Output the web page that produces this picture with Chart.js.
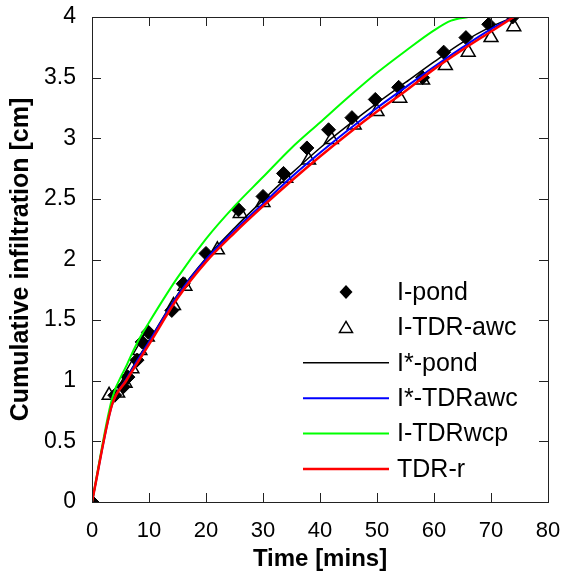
<!DOCTYPE html>
<html>
<head>
<meta charset="utf-8">
<script src="https://cdn.jsdelivr.net/npm/chart.js@4.4.1/dist/chart.umd.min.js"></script>
<style>
  body { margin: 0; background: #fff; }
  #wrap { width: 564px; height: 576px; }
</style>
</head>
<body>
<div id="wrap"><canvas id="infilChart" width="564" height="576"></canvas></div>
<script>
// measured points
const pondTime = [0, 4, 5.5, 6.3, 7.9, 8.8, 9.9, 14, 16, 20, 25.7, 30, 33.6, 37.7, 41.5, 45.6, 49.7, 53.8, 58, 61.7, 65.6, 69.6, 73.8];
const pondVals = [0, 0.88, 0.95, 1.03, 1.17, 1.32, 1.4, 1.58, 1.8, 2.05, 2.41, 2.52, 2.71, 2.92, 3.07, 3.17, 3.32, 3.42, 3.5, 3.71, 3.83, 3.94, 4.0];
const awcTime = [3, 4.5, 5.8, 7, 8.4, 9.7, 14.3, 16.3, 22, 26, 30, 34, 38, 42, 46, 50, 54, 58, 62, 66, 70, 74];
const awcVals = [0.88, 0.9, 0.98, 1.1, 1.25, 1.36, 1.62, 1.78, 2.08, 2.38, 2.47, 2.67, 2.82, 2.99, 3.11, 3.22, 3.33, 3.48, 3.6, 3.71, 3.83, 3.92];

// model curves
const modelTime = [0, 3.5, 6, 8, 10, 15, 20, 25, 30, 35, 40, 45, 50, 55, 60, 65, 70, 74];
const pondFit = [0, 0.81, 1.02, 1.18, 1.33, 1.71, 2.01, 2.26, 2.49, 2.71, 2.92, 3.11, 3.29, 3.46, 3.63, 3.79, 3.92, 4.0];
const awcFit = [0, 0.8, 1.01, 1.17, 1.32, 1.7, 2.0, 2.24, 2.46, 2.68, 2.88, 3.07, 3.25, 3.42, 3.59, 3.75, 3.9, 4.0];
const tdrR = [0, 0.8, 1.0, 1.15, 1.3, 1.68, 1.98, 2.22, 2.44, 2.65, 2.85, 3.04, 3.22, 3.39, 3.57, 3.73, 3.88, 4.0];
const wcpTime = [0, 3.5, 6, 8, 10, 15, 20, 25, 30, 35, 40, 45, 50, 55, 60, 63, 66];
const wcpVals = [0, 0.85, 1.12, 1.32, 1.48, 1.85, 2.17, 2.44, 2.68, 2.92, 3.13, 3.34, 3.54, 3.72, 3.89, 3.97, 4.0];

const xTicks = [0, 10, 20, 30, 40, 50, 60, 70, 80];
const yTicks = [0, 0.5, 1, 1.5, 2, 2.5, 3, 3.5, 4];
const legendNames = ['I-pond', 'I-TDR-awc', 'I*-pond', 'I*-TDRawc', 'I-TDRwcp', 'TDR-r'];

function pts(xs, ys) {
    return xs.map(function(x, i) { return { x: x, y: ys[i] }; });
}

const FONT = "'Liberation Sans', Arial, sans-serif";

// inward ticks + box, like the original figure
const boxTicks = {
    id: 'boxTicks',
    afterDraw: function(chart) {
        const ctx = chart.ctx;
        const a = chart.chartArea;
        const xs = chart.scales.x, ys = chart.scales.y;
        ctx.save();
        ctx.strokeStyle = '#222';
        ctx.lineWidth = 1;
        ctx.beginPath();
        xTicks.forEach(function(v) {
            const px = Math.round(xs.getPixelForValue(v)) + 0.5;
            ctx.moveTo(px, a.bottom); ctx.lineTo(px, a.bottom - 9);
            ctx.moveTo(px, a.top); ctx.lineTo(px, a.top + 9);
        });
        yTicks.forEach(function(v) {
            const py = Math.round(ys.getPixelForValue(v)) + 0.5;
            ctx.moveTo(a.left, py); ctx.lineTo(a.left + 9, py);
            ctx.moveTo(a.right, py); ctx.lineTo(a.right - 9, py);
        });
        ctx.stroke();
        ctx.strokeRect(Math.round(a.left) + 0.5, Math.round(a.top) + 0.5,
            Math.round(a.right - a.left), Math.round(a.bottom - a.top));
        ctx.restore();
    }
};

// legend in the lower right of the plot area
const innerLegend = {
    id: 'innerLegend',
    afterDraw: function(chart) {
        const ctx = chart.ctx;
        const a = chart.chartArea;
        const textX = a.right - 151;
        const lineX0 = a.right - 245, lineX1 = a.right - 159;
        const markX = a.right - 202;
        const y0 = a.bottom - 210, step = 35.4;
        ctx.save();
        ctx.font = '25px ' + FONT;
        ctx.textBaseline = 'middle';
        ctx.textAlign = 'left';
        chart.data.datasets.forEach(function(ds, i) {
            const y = y0 + step * i;
            if (ds.showLine) {
                ctx.strokeStyle = ds.borderColor;
                ctx.lineWidth = ds.borderWidth;
                ctx.beginPath();
                ctx.moveTo(lineX0, y); ctx.lineTo(lineX1, y);
                ctx.stroke();
            } else if (i === 0) {
                ctx.fillStyle = '#000';
                ctx.beginPath();
                ctx.moveTo(markX, y - 7); ctx.lineTo(markX + 6.5, y);
                ctx.lineTo(markX, y + 7); ctx.lineTo(markX - 6.5, y);
                ctx.closePath();
                ctx.fill();
            } else {
                ctx.strokeStyle = '#000';
                ctx.lineWidth = 1.5;
                ctx.beginPath();
                ctx.moveTo(markX, y - 6); ctx.lineTo(markX + 6.5, y + 5);
                ctx.lineTo(markX - 6.5, y + 5);
                ctx.closePath();
                ctx.stroke();
            }
            ctx.fillStyle = '#000';
            ctx.fillText(legendNames[i], textX, y + 1);
        });
        ctx.restore();
    }
};

document.addEventListener('DOMContentLoaded', function() {
    const lineSet = function(label, xs, ys, color, width, order) {
        return {
            label: label,
            data: pts(xs, ys),
            showLine: true,
            borderColor: color,
            backgroundColor: color,
            borderWidth: width,
            pointRadius: 0,
            cubicInterpolationMode: 'monotone',
            order: order
        };
    };

    const data = {
        datasets: [{
            label: legendNames[0],
            data: pts(pondTime, pondVals),
            showLine: false,
            pointStyle: 'rectRot',
            pointRadius: 7,
            pointBackgroundColor: '#000',
            pointBorderColor: '#000',
            pointBorderWidth: 1,
            order: 6
        }, {
            label: legendNames[1],
            data: pts(awcTime, awcVals),
            showLine: false,
            pointStyle: 'triangle',
            pointRadius: 8,
            pointBackgroundColor: 'rgba(255,255,255,0)',
            pointBorderColor: '#000',
            pointBorderWidth: 1.5,
            order: 5
        },
        lineSet(legendNames[2], modelTime, pondFit, '#000000', 1.5, 4),
        lineSet(legendNames[3], modelTime, awcFit, '#0000ff', 2, 3),
        lineSet(legendNames[4], wcpTime, wcpVals, '#00ff00', 2, 2),
        lineSet(legendNames[5], modelTime, tdrR, '#ff0000', 2.5, 1)
        ]
    };

    const config = {
        type: 'scatter',
        data: data,
        options: {
            responsive: false,
            animation: false,
            layout: {
                padding: { top: 17, right: 16, left: 0, bottom: 0 }
            },
            scales: {
                x: {
                    type: 'linear',
                    min: 0,
                    max: 80,
                    afterFit: function(scale) {
                        scale.height = 74;
                        scale.paddingLeft = 0;
                        scale.paddingRight = 0;
                    },
                    afterBuildTicks: function(scale) {
                        scale.ticks = xTicks.map(function(v) { return { value: v }; });
                    },
                    grid: { display: false },
                    border: { display: false },
                    ticks: {
                        color: '#000',
                        padding: 8,
                        maxRotation: 0,
                        font: { size: 22, family: FONT },
                        callback: function(value) { return String(value); }
                    },
                    title: {
                        display: true,
                        text: 'Time [mins]',
                        color: '#000',
                        padding: { top: 0, bottom: 2 },
                        font: { size: 24, weight: 'bold', family: FONT }
                    }
                },
                y: {
                    min: 0,
                    max: 4,
                    afterFit: function(scale) {
                        scale.width = 92;
                        scale.paddingTop = 0;
                        scale.paddingBottom = 0;
                    },
                    afterBuildTicks: function(scale) {
                        scale.ticks = yTicks.map(function(v) { return { value: v }; });
                    },
                    grid: { display: false },
                    border: { display: false },
                    ticks: {
                        color: '#000',
                        padding: 8,
                        font: { size: 23, family: FONT },
                        callback: function(value) { return String(value); }
                    },
                    title: {
                        display: true,
                        text: 'Cumulative infiltration [cm]',
                        color: '#000',
                        padding: { top: 6, bottom: 0 },
                        font: { size: 25, weight: 'bold', family: FONT }
                    }
                }
            },
            plugins: {
                legend: { display: false },
                tooltip: { enabled: false }
            }
        },
        plugins: [boxTicks, innerLegend]
    };

    const ctx = document.getElementById('infilChart').getContext('2d');
    new Chart(ctx, config);
});
</script>
</body>
</html>
